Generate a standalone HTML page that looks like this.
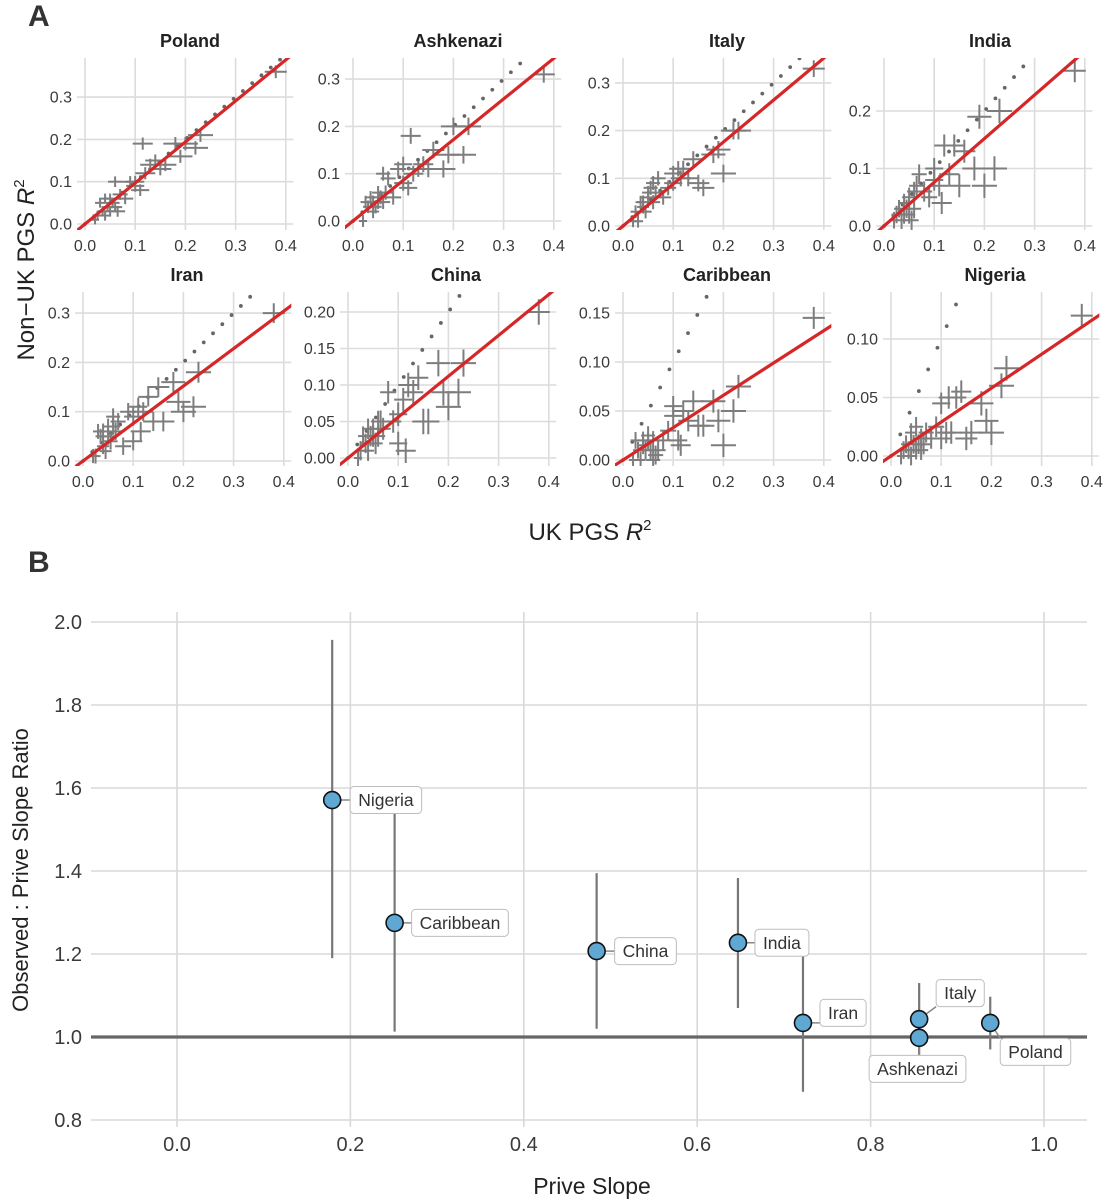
<!DOCTYPE html>
<html><head><meta charset="utf-8"><style>
html,body{margin:0;padding:0;background:#fff;}
svg{display:block;font-family:"Liberation Sans",Arial,sans-serif;}
</style></head><body>
<svg id="fig" width="1105" height="1200" viewBox="0 0 1105 1200">
<text x="28" y="26" font-size="30" font-weight="bold" fill="#333">A</text>
<text x="28" y="572" font-size="30" font-weight="bold" fill="#333">B</text>
<text transform="translate(34,270) rotate(-90)" text-anchor="middle" font-size="24" fill="#222">Non−UK PGS  <tspan font-style="italic">R</tspan><tspan font-size="15" dy="-10">2</tspan></text>
<text x="590" y="540" text-anchor="middle" font-size="24" fill="#222">UK PGS  <tspan font-style="italic">R</tspan><tspan font-size="15" dy="-10">2</tspan></text>
<text transform="translate(28,870) rotate(-90)" text-anchor="middle" font-size="22" fill="#222">Observed : Prive Slope Ratio</text>
<text x="592" y="1194" text-anchor="middle" font-size="23" fill="#222">Prive Slope</text>
<g id="pa"></g>
<g id="pb"></g>
</svg>
<script>
// ---------- Panel A data ----------
const panelNames = ["Poland","Ashkenazi","Italy","India","Iran","China","Caribbean","Nigeria"];
const ukR2 = [0.02,0.025,0.03,0.035,0.04,0.04,0.045,0.05,0.05,0.055,0.06,0.06,0.065,0.07,0.08,0.09,0.10,0.10,0.11,0.115,0.12,0.13,0.14,0.15,0.16,0.18,0.19,0.20,0.22,0.23,0.38];
const ukR2Err = [0.008,0.01,0.01,0.01,0.012,0.012,0.012,0.012,0.014,0.014,0.014,0.014,0.015,0.015,0.016,0.016,0.018,0.018,0.018,0.02,0.02,0.02,0.02,0.022,0.022,0.024,0.024,0.025,0.025,0.025,0.022];
const yPoland = [0.01,0.02,0.05,0.03,0.06,0.02,0.04,0.06,0.03,0.05,0.10,0.04,0.03,0.07,0.06,0.10,0.09,0.10,0.08,0.19,0.12,0.14,0.15,0.13,0.14,0.19,0.16,0.19,0.18,0.21,0.36];
const yAshkenazi = [0.00,0.04,0.03,0.05,0.02,0.04,0.03,0.06,0.04,0.05,0.04,0.10,0.06,0.09,0.05,0.11,0.12,0.08,0.07,0.18,0.10,0.11,0.12,0.11,0.15,0.11,0.14,0.20,0.14,0.20,0.31];
const yItaly = [0.01,0.03,0.01,0.05,0.04,0.05,0.03,0.07,0.06,0.08,0.09,0.05,0.07,0.10,0.06,0.08,0.11,0.09,0.12,0.10,0.12,0.10,0.14,0.09,0.08,0.15,0.16,0.11,0.20,0.20,0.33];
const yIndia = [0.01,0.02,0.03,0.01,0.04,0.02,0.03,0.02,0.05,0.01,0.06,0.03,0.07,0.09,0.06,0.05,0.08,0.10,0.07,0.04,0.14,0.09,0.14,0.07,0.13,0.10,0.19,0.07,0.10,0.20,0.27];
const yIran = [0.01,0.01,0.06,0.05,0.03,0.06,0.02,0.07,0.05,0.04,0.07,0.09,0.06,0.08,0.03,0.10,0.04,0.09,0.11,0.06,0.10,0.13,0.08,0.15,0.08,0.16,0.12,0.10,0.11,0.18,0.30];
const yChina = [0.00,0.01,0.03,0.02,0.04,0.01,0.03,0.04,0.03,0.02,0.05,0.03,0.05,0.04,0.09,0.05,0.02,0.06,0.08,0.01,0.10,0.09,0.11,0.05,0.05,0.13,0.09,0.07,0.09,0.13,0.20];
const yCaribbean = [0.00,0.02,0.01,0.00,0.02,0.015,0.01,0.02,0.025,0.01,0.00,0.02,0.005,0.01,0.02,0.03,0.055,0.045,0.02,0.015,0.05,0.04,0.06,0.035,0.035,0.06,0.04,0.015,0.05,0.075,0.145];
const yNigeria = [0.00,0.005,0.01,0.005,0.02,0.00,0.01,0.005,0.025,0.01,0.005,0.015,0.01,0.02,0.015,0.025,0.015,0.045,0.02,0.05,0.02,0.05,0.055,0.015,0.02,0.045,0.03,0.02,0.06,0.075,0.12];
const panelY = [yPoland,yAshkenazi,yItaly,yIndia,yIran,yChina,yCaribbean,yNigeria];
const panelYErr = [0.012,0.014,0.014,0.016,0.016,0.014,0.009,0.008];
const fitSlope = [0.97,0.86,0.88,0.76,0.76,0.56,0.33,0.29];
const yTicks = [[0,0.1,0.2,0.3],[0,0.1,0.2,0.3],[0,0.1,0.2,0.3],[0,0.1,0.2],[0,0.1,0.2,0.3],[0,0.05,0.1,0.15,0.2],[0,0.05,0.1,0.15],[0,0.05,0.1]];
const yTickLabels = [["0.0","0.1","0.2","0.3"],["0.0","0.1","0.2","0.3"],["0.0","0.1","0.2","0.3"],["0.0","0.1","0.2"],["0.0","0.1","0.2","0.3"],["0.00","0.05","0.10","0.15","0.20"],["0.00","0.05","0.10","0.15"],["0.00","0.05","0.10"]];
const xTicks = [0,0.1,0.2,0.3,0.4];
const xTickLabels = ["0.0","0.1","0.2","0.3","0.4"];

// ---------- Panel B data ----------
const popNames = ["Nigeria","Caribbean","China","India","Iran","Italy","Ashkenazi","Poland"];
const priveSlope = [0.179,0.251,0.484,0.647,0.722,0.856,0.856,0.938];
const slopeRatio = [1.571,1.275,1.207,1.227,1.034,1.043,0.998,1.034];
const ratioLo = [1.19,1.013,1.02,1.07,0.868,1.0,0.957,0.97];
const ratioHi = [1.957,1.54,1.395,1.383,1.2,1.13,1.06,1.097];
const bXTicks = [0,0.2,0.4,0.6,0.8,1.0];
const bXTickLabels = ["0.0","0.2","0.4","0.6","0.8","1.0"];
const bYTicks = [0.8,1.0,1.2,1.4,1.6,1.8,2.0];
const bYTickLabels = ["0.8","1.0","1.2","1.4","1.6","1.8","2.0"];

const NS="http://www.w3.org/2000/svg";
function mk(parent,tag,attrs){const e=document.createElementNS(NS,tag);for(const k in attrs)e.setAttribute(k,attrs[k]);parent.appendChild(e);return e;}

// layout (pixels)
const colX0 = [85,353,623,884,83,348,623,891];
const rowTop = [58,58,58,58,292,292,292,292];
const rowBot = [230,230,230,230,466,466,466,466];
const zeroY = [224,221,226,226,461,458,460,456];
const pxPerY = [423,473,477,575,493,730,980,1170];
const titleX = [190,458,727,990,187,456,727,995];
const titleY = [47,47,47,47,281,281,281,281];
const PXX = 502;

const pa=document.getElementById('pa');
for(let p=0;p<8;p++){
  const g=mk(pa,'g',{});
  
  
  const xs=v=>colX0[p]+v*PXX;
  const ys=v=>zeroY[p]-v*pxPerY[p];
  const L=colX0[p]-8, R=colX0[p]+0.415*PXX, T=rowTop[p], B=rowBot[p];
  const clipId='c'+p;
  const cp=mk(g,'clipPath',{id:clipId}); mk(cp,'rect',{x:L,y:T,width:R-L,height:B-T});
  xTicks.forEach((t,i)=>{
    const l=mk(g,'line',{x1:xs(t),x2:xs(t),y1:T,y2:B,stroke:'#dcdcdc','stroke-width':1.6});
     
    const tx=mk(g,'text',{x:xs(t),y:B+21,'text-anchor':'middle','font-size':16,fill:'#3a3a3a'});
    tx.textContent=xTickLabels[i];
     
  });
  yTicks[p].forEach((t,i)=>{
    const l=mk(g,'line',{x1:L,x2:R,y1:ys(t),y2:ys(t),stroke:'#dcdcdc','stroke-width':1.6});
     
    const tx=mk(g,'text',{x:L-5,y:ys(t)+5.5,'text-anchor':'end','font-size':16,fill:'#3a3a3a'});
    tx.textContent=yTickLabels[p][i];
     
  });
  const tt=mk(g,'text',{x:titleX[p],y:titleY[p],'text-anchor':'middle','font-size':18,'font-weight':'bold',fill:'#222'});
  tt.textContent=panelNames[p];
   
  const inner=mk(g,'g',{'clip-path':'url(#'+clipId+')'});
  for(let v=0; v<0.42; v+=0.0185){
    const y=ys(v); if(y<T-2||y>B) continue;
    const d=mk(inner,'circle',{cx:xs(v),cy:y,r:1.9,fill:'#666'});
     
  }
  ukR2.forEach((xv,i)=>{
    const yv=panelY[p][i], ex=ukR2Err[i], ey=panelYErr[p]*(0.7+ex*25);
    const h=mk(inner,'line',{x1:xs(xv-ex),x2:xs(xv+ex),y1:ys(yv),y2:ys(yv),stroke:'#7d7d7d','stroke-width':2});
     
    const v=mk(inner,'line',{x1:xs(xv),x2:xs(xv),y1:ys(yv-ey),y2:ys(yv+ey),stroke:'#7d7d7d','stroke-width':2});
     
  });
  const fl=mk(inner,'line',{x1:xs(-0.02),y1:ys(-0.02*fitSlope[p]),x2:xs(0.45),y2:ys(0.45*fitSlope[p]),stroke:'#d62728','stroke-width':3.2});
   
}

// ---------- Panel B ----------
const pb=document.getElementById('pb');
const bx=v=>177+v*867, by=v=>622+(2.0-v)*415;
const BL=91,BR=1087,BT=612,BB=1127;
bXTicks.forEach((t,i)=>{
  const l=mk(pb,'line',{x1:bx(t),x2:bx(t),y1:BT,y2:BB,stroke:'#d9d9d9','stroke-width':1.6});
   
  const tx=mk(pb,'text',{x:bx(t),y:BB+24,'text-anchor':'middle','font-size':20,fill:'#3a3a3a'});
  tx.textContent=bXTickLabels[i];
   
});
bYTicks.forEach((t,i)=>{
  const l=mk(pb,'line',{x1:BL,x2:BR,y1:by(t),y2:by(t),stroke:'#d9d9d9','stroke-width':1.6});
   
  const tx=mk(pb,'text',{x:82,y:by(t)+7,'text-anchor':'end','font-size':20,fill:'#3a3a3a'});
  tx.textContent=bYTickLabels[i];
   
});
const ref=mk(pb,'line',{x1:BL,x2:BR,y1:by(1),y2:by(1),stroke:'#666','stroke-width':3.2});
 
popNames.forEach((n,i)=>{
  const e=mk(pb,'line',{x1:bx(priveSlope[i]),x2:bx(priveSlope[i]),y1:by(ratioLo[i]),y2:by(ratioHi[i]),stroke:'#777','stroke-width':2.2});
   
});
const labDx=[18,17,18,17,17,17,-50,10], labDy=[0,0,0,0,-10,-26,31,29];
popNames.forEach((n,i)=>{
  const px=bx(priveSlope[i]), py=by(slopeRatio[i]);
  const g=mk(pb,'g',{});
   
  const seg=mk(g,'line',{stroke:'#888','stroke-width':1.5});
  const rect=mk(g,'rect',{rx:4,ry:4,fill:'#fff',stroke:'#bdbdbd','stroke-width':1});
  const t=mk(g,'text',{'font-size':17.5,fill:'#333'});
  t.textContent=n;
  const w=t.getComputedTextLength()+16, h=27;
  const lx=px+labDx[i], cy=py+labDy[i];
  rect.setAttribute('x',lx); rect.setAttribute('y',cy-h/2); rect.setAttribute('width',w); rect.setAttribute('height',h);
  t.setAttribute('x',lx+8); t.setAttribute('y',cy+6);
  const tx=Math.max(lx,Math.min(px,lx+w)), ty=Math.max(cy-h/2,Math.min(py,cy+h/2));
  seg.setAttribute('x1',px); seg.setAttribute('y1',py); seg.setAttribute('x2',tx); seg.setAttribute('y2',ty);
});
popNames.forEach((n,i)=>{
  const c=mk(pb,'circle',{cx:bx(priveSlope[i]),cy:by(slopeRatio[i]),r:8.5,fill:'#5fa8d3',stroke:'#111','stroke-width':1.6});
   
});
</script>
</body></html>
